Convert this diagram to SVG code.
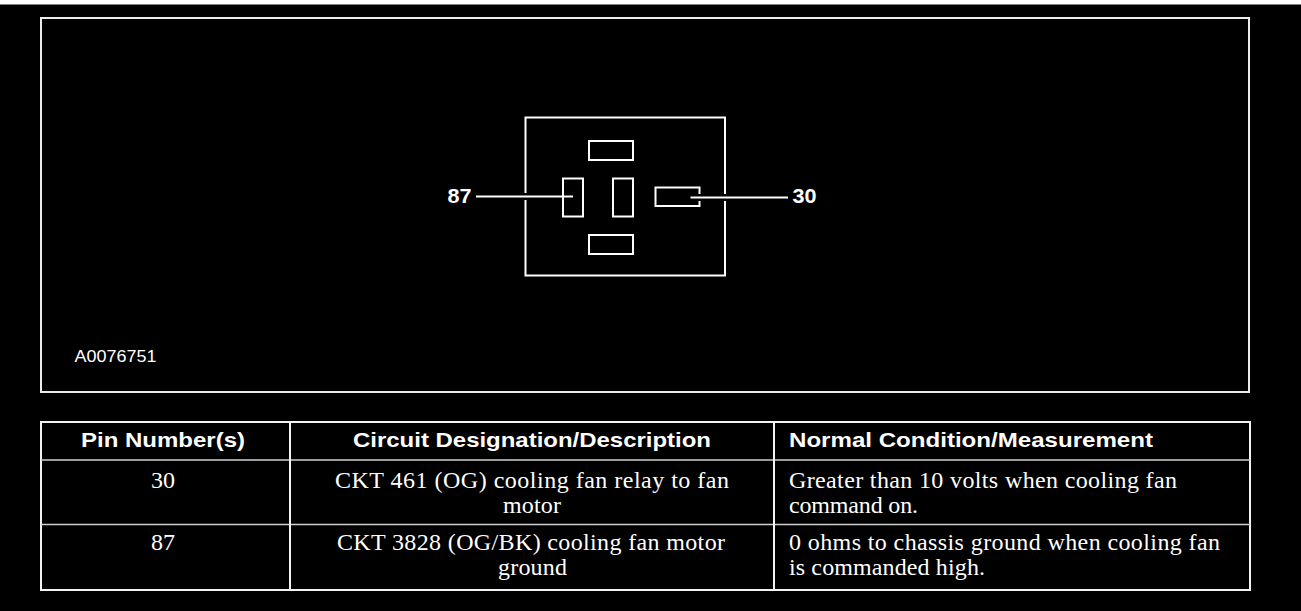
<svg xmlns="http://www.w3.org/2000/svg" width="1301" height="611" viewBox="0 0 1301 611">
<style>
.bg{fill:#000}
.frame{fill:none;stroke:#ececec;stroke-width:2}
.ln{fill:none;stroke:#fff;stroke-width:2}
.halo{fill:none;stroke:#000;stroke-width:7}
.tl{fill:none;stroke:#f2f2f2;stroke-width:2}
.tli{fill:none;stroke:#cfcfcf;stroke-width:1.5}
.lbl{font-family:"Liberation Sans",Arial,sans-serif;font-weight:bold;font-size:20px;fill:#fff}
.code{font-family:"Liberation Sans",Arial,sans-serif;font-size:17px;fill:#fff}
.hd{font-family:"Liberation Sans",Arial,sans-serif;font-weight:bold;font-size:20.5px;fill:#fff}
.td{font-family:"Liberation Serif","Times New Roman",serif;font-size:24px;fill:#fff}
</style>
<rect class="bg" x="0" y="0" width="1301" height="611"/>
<rect x="0" y="0" width="1301" height="4.5" fill="#fff"/>
<rect id="figure-frame" class="frame" x="41" y="18" width="1208" height="374"/>

<g id="connector">
  <rect class="ln" x="525.5" y="117.5" width="199.5" height="158"/>
  <rect id="pin-top" class="ln" x="589" y="141" width="44" height="19"/>
  <rect id="pin-bottom" class="ln" x="589" y="235" width="44" height="19"/>
  <rect id="pin-87" class="ln" x="563" y="178.5" width="20" height="38"/>
  <rect id="pin-mid" class="ln" x="613" y="178.5" width="20" height="38"/>
  <rect id="pin-30" class="ln" x="655.5" y="187.5" width="44" height="18.5"/>
</g>

<g id="connectors">
  <line class="halo" x1="520" y1="196.5" x2="531" y2="196.5"/>
  <line class="halo" x1="694" y1="197.5" x2="731" y2="197.5"/>
  <line class="ln" x1="476" y1="196.5" x2="573" y2="196.5"/>
  <line class="ln" x1="690.5" y1="197.5" x2="788" y2="197.5"/>
</g>

<g id="label-87"><text class="lbl" x="447.5" y="202.5" textLength="24" lengthAdjust="spacingAndGlyphs">87</text></g>
<g id="label-30"><text class="lbl" x="792.5" y="202.5" textLength="24" lengthAdjust="spacingAndGlyphs">30</text></g>
<g id="fig-code"><text class="code" x="74.5" y="361.5" textLength="82" lengthAdjust="spacingAndGlyphs">A0076751</text></g>

<g id="table">
  <rect class="tl" x="41" y="422" width="1209" height="168"/>
  <line class="tli" x1="41" y1="460" x2="1250" y2="460"/>
  <line class="tli" x1="41" y1="524.5" x2="1250" y2="524.5"/>
  <line class="tl" x1="290" y1="422" x2="290" y2="590"/>
  <line class="tl" x1="774" y1="422" x2="774" y2="590"/>

  <text class="hd" x="81" y="447" textLength="164" lengthAdjust="spacingAndGlyphs">Pin Number(s)</text>
  <text class="hd" x="353" y="447" textLength="358" lengthAdjust="spacingAndGlyphs">Circuit Designation/Description</text>
  <text class="hd" x="789" y="447" textLength="364" lengthAdjust="spacingAndGlyphs">Normal Condition/Measurement</text>

  <text class="td" x="151" y="487.5" textLength="24">30</text>
  <text class="td" x="335" y="487.5" textLength="394">CKT 461 (OG) cooling fan relay to fan</text>
  <text class="td" x="503" y="513" textLength="58">motor</text>
  <text class="td" x="789" y="487.5" textLength="388">Greater than 10 volts when cooling fan</text>
  <text class="td" x="789" y="513" textLength="129">command on.</text>

  <text class="td" x="151" y="550" textLength="24">87</text>
  <text class="td" x="337" y="550" textLength="388">CKT 3828 (OG/BK) cooling fan motor</text>
  <text class="td" x="498" y="575" textLength="69">ground</text>
  <text class="td" x="789" y="550" textLength="431">0 ohms to chassis ground when cooling fan</text>
  <text class="td" x="789" y="575" textLength="196">is commanded high.</text>
</g>
</svg>
